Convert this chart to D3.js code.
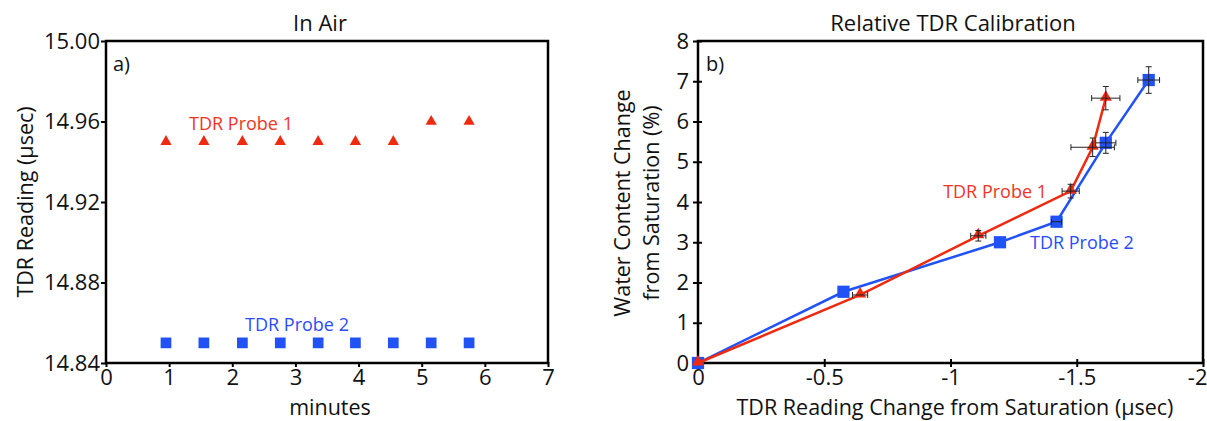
<!DOCTYPE html>
<html>
<head>
<meta charset="utf-8">
<script src="https://d3js.org/d3.v7.min.js"></script>
<style>
    body { margin: 0; background: #fff; }
    svg text { font-family: "Open Sans", "Noto Sans", sans-serif; fill: #111; }
    .tick text { font-size: 22px; }
    .axis-title { font-size: 21.5px; }
    .panel-title { font-size: 22px; }
</style>
</head>
<body>
<svg id="chart" width="1207" height="421"></svg>
<script>
// ---- data: panel a (In Air) ----
const airMinutes = [0.95, 1.55, 2.16, 2.76, 3.36, 3.95, 4.55, 5.15, 5.75];
const airProbe1 = [14.95, 14.95, 14.95, 14.95, 14.95, 14.95, 14.95, 14.96, 14.96];
const airProbe2 = [14.85, 14.85, 14.85, 14.85, 14.85, 14.85, 14.85, 14.85, 14.85];
const airXTicks = [0, 1, 2, 3, 4, 5, 6, 7];
const airYTicks = [14.84, 14.88, 14.92, 14.96, 15.00];

// ---- data: panel b (Relative TDR Calibration) ----
const calProbe1X = [0, -0.642, -1.110, -1.476, -1.563, -1.615];
const calProbe1Y = [0, 1.69, 3.16, 4.27, 5.36, 6.58];
const calProbe1XErr = [0, 0.03, 0.03, 0.034, 0.086, 0.056];
const calProbe1YErr = [0, 0, 0.13, 0.17, 0.23, 0.29];
const calProbe2X = [0, -0.576, -1.196, -1.42, -1.615, -1.785];
const calProbe2Y = [0, 1.77, 3.0, 3.51, 5.47, 7.03];
const calProbe2XErr = [0, 0, 0, 0.02, 0.04, 0.043];
const calProbe2YErr = [0, 0, 0, 0, 0.26, 0.33];
const calXTicks = [0, -0.5, -1, -1.5, -2];
const calYTicks = [0, 1, 2, 3, 4, 5, 6, 7, 8];

const red = "#ee2a10";
const blue = "#2152f5";
const redText = "#ee3526";
const blueText = "#2a4cff";

const svg = d3.select("#chart");

// ================= panel a =================
const a = {left: 106, right: 548, top: 41, bottom: 363};
const ax = d3.scaleLinear().domain([0, 7]).range([a.left, a.right]);
const ay = d3.scaleLinear().domain([14.84, 15.00]).range([a.bottom, a.top]);

svg.append("g")
    .attr("transform", `translate(0,${a.bottom})`)
    .call(d3.axisBottom(ax).tickValues(airXTicks).tickSize(4).tickPadding(2).tickFormat(d => d))
    .call(g => g.select(".domain").remove())
    .call(g => g.selectAll(".tick line").attr("stroke", "#000").attr("stroke-width", 2).attr("y1", -1));

svg.append("g")
    .attr("transform", `translate(${a.left},0)`)
    .call(d3.axisLeft(ay).tickValues(airYTicks).tickSize(5).tickPadding(1).tickFormat(d3.format(".2f")))
    .call(g => g.select(".domain").remove())
    .call(g => g.selectAll(".tick line").attr("stroke", "#000").attr("stroke-width", 2));

svg.append("rect")
    .attr("x", a.left).attr("y", a.top)
    .attr("width", a.right - a.left).attr("height", a.bottom - a.top)
    .attr("fill", "none").attr("stroke", "#000").attr("stroke-width", 2.5);

const triSmall = d3.symbol().type(d3.symbolTriangle).size(55);
const sqSmall = d3.symbol().type(d3.symbolSquare).size(115);

svg.append("g").selectAll("path")
    .data(airMinutes)
    .join("path")
    .attr("d", sqSmall)
    .attr("fill", blue)
    .attr("transform", (d, i) => `translate(${ax(d)},${ay(airProbe2[i])})`);

svg.append("g").selectAll("path")
    .data(airMinutes)
    .join("path")
    .attr("d", triSmall)
    .attr("fill", red)
    .attr("transform", (d, i) => `translate(${ax(d)},${ay(airProbe1[i])})`);

svg.append("text").attr("x", 241).attr("y", 130).attr("text-anchor", "middle")
    .style("font-size", "18px").style("fill", redText).text("TDR Probe 1");
svg.append("text").attr("x", 297).attr("y", 331).attr("text-anchor", "middle")
    .style("font-size", "18px").style("fill", blueText).text("TDR Probe 2");

svg.append("text").attr("x", 113).attr("y", 71).style("font-size", "20px").text("a)");
svg.append("text").attr("class", "panel-title").attr("x", 320).attr("y", 31)
    .attr("text-anchor", "middle").text("In Air");
svg.append("text").attr("class", "axis-title").attr("x", 330).attr("y", 415)
    .attr("text-anchor", "middle").text("minutes");
svg.append("text").attr("class", "axis-title")
    .attr("transform", `translate(33,${(a.top + a.bottom) / 2}) rotate(-90)`)
    .attr("text-anchor", "middle").text("TDR Reading (µsec)");

// ================= panel b =================
const b = {left: 698, right: 1203, top: 41, bottom: 363};
const bx = d3.scaleLinear().domain([0, -2]).range([b.left, b.right]);
const by = d3.scaleLinear().domain([0, 8]).range([b.bottom, b.top]);

svg.append("g")
    .attr("transform", `translate(0,${b.bottom})`)
    .call(d3.axisBottom(bx).tickValues(calXTicks).tickSize(4).tickPadding(2).tickFormat(d => String(d)))
    .call(g => g.select(".domain").remove())
    .call(g => g.selectAll(".tick line").attr("stroke", "#000").attr("stroke-width", 2).attr("y1", -4))
    .call(g => g.selectAll(".tick text").filter(d => d === -2).attr("text-anchor", "end").attr("dx", 4));

svg.append("g")
    .attr("transform", `translate(${b.left},0)`)
    .call(d3.axisLeft(by).tickValues(calYTicks).tickSize(5).tickPadding(4).tickFormat(d => d))
    .call(g => g.select(".domain").remove())
    .call(g => g.selectAll(".tick line").attr("stroke", "#000").attr("stroke-width", 2).attr("x1", 4));

svg.append("rect")
    .attr("x", b.left).attr("y", b.top)
    .attr("width", b.right - b.left).attr("height", b.bottom - b.top)
    .attr("fill", "none").attr("stroke", "#000").attr("stroke-width", 2.5);

const probe1 = calProbe1X.map((x, i) => ({x: x, y: calProbe1Y[i], ex: calProbe1XErr[i], ey: calProbe1YErr[i]}));
const probe2 = calProbe2X.map((x, i) => ({x: x, y: calProbe2Y[i], ex: calProbe2XErr[i], ey: calProbe2YErr[i]}));

const line = d3.line().x(d => bx(d.x)).y(d => by(d.y));
const triBig = d3.symbol().type(d3.symbolTriangle).size(64);
const sqBig = d3.symbol().type(d3.symbolSquare).size(150);

svg.append("path").datum(probe2)
    .attr("d", line).attr("fill", "none").attr("stroke", blue).attr("stroke-width", 2.5);
svg.append("g").selectAll("path").data(probe2).join("path")
    .attr("d", sqBig).attr("fill", blue)
    .attr("transform", d => `translate(${bx(d.x)},${by(d.y)})`);

svg.append("path").datum(probe1)
    .attr("d", line).attr("fill", "none").attr("stroke", red).attr("stroke-width", 2.5);
svg.append("g").selectAll("path").data(probe1).join("path")
    .attr("d", triBig).attr("fill", red)
    .attr("transform", d => `translate(${bx(d.x)},${by(d.y) - 1})`);

// error bars
const errs = svg.append("g").attr("stroke", "#222").attr("stroke-width", 1);
const cap = 3;
probe1.concat(probe2).forEach(d => {
    const cx = bx(d.x), cy = by(d.y);
    if (d.ex > 0) {
        const x1 = bx(d.x - d.ex), x2 = bx(d.x + d.ex);
        errs.append("line").attr("x1", x1).attr("x2", x2).attr("y1", cy).attr("y2", cy);
        errs.append("line").attr("x1", x1).attr("x2", x1).attr("y1", cy - cap).attr("y2", cy + cap);
        errs.append("line").attr("x1", x2).attr("x2", x2).attr("y1", cy - cap).attr("y2", cy + cap);
    }
    if (d.ey > 0) {
        const y1 = by(d.y - d.ey), y2 = by(d.y + d.ey);
        errs.append("line").attr("x1", cx).attr("x2", cx).attr("y1", y1).attr("y2", y2);
        errs.append("line").attr("x1", cx - cap).attr("x2", cx + cap).attr("y1", y1).attr("y2", y1);
        errs.append("line").attr("x1", cx - cap).attr("x2", cx + cap).attr("y1", y2).attr("y2", y2);
    }
});

svg.append("text").attr("x", 1047).attr("y", 198).attr("text-anchor", "end")
    .style("font-size", "18px").style("fill", redText).text("TDR Probe 1");
svg.append("text").attr("x", 1030).attr("y", 249)
    .style("font-size", "18px").style("fill", blueText).text("TDR Probe 2");

svg.append("text").attr("x", 706).attr("y", 71).style("font-size", "20px").text("b)");
svg.append("text").attr("class", "panel-title").attr("x", 953).attr("y", 31)
    .attr("text-anchor", "middle").text("Relative TDR Calibration");
svg.append("text").attr("class", "axis-title").attr("x", 955).attr("y", 415)
    .attr("text-anchor", "middle").text("TDR Reading Change from Saturation (µsec)");
svg.append("text").attr("class", "axis-title")
    .attr("transform", `translate(630,203) rotate(-90)`)
    .attr("text-anchor", "middle").text("Water Content Change");
svg.append("text").attr("class", "axis-title")
    .attr("transform", `translate(659,203) rotate(-90)`)
    .attr("text-anchor", "middle").text("from Saturation (%)");
</script>
</body>
</html>
